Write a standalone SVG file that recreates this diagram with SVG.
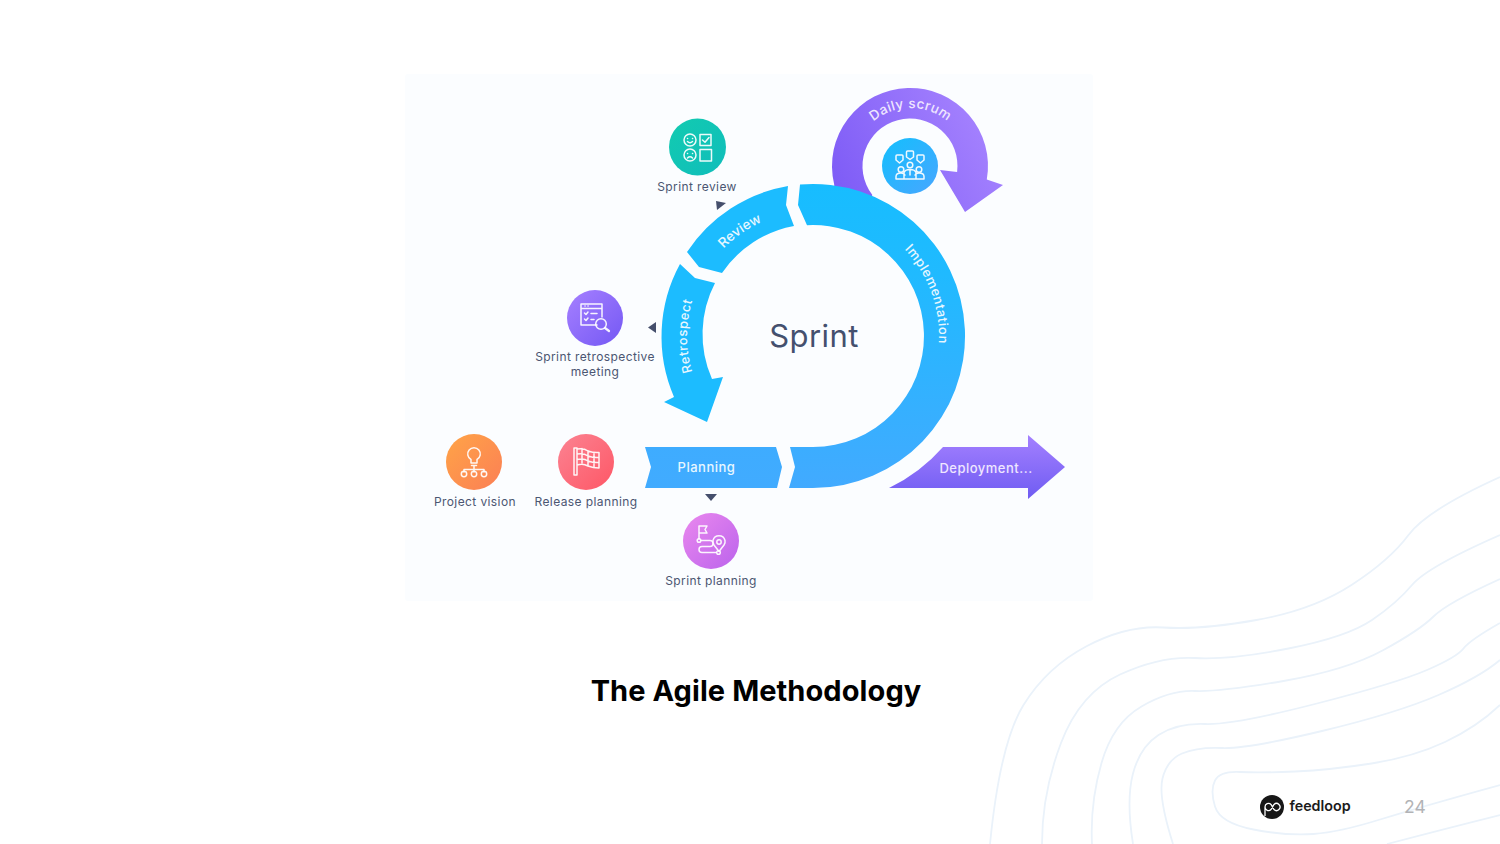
<svg xmlns="http://www.w3.org/2000/svg" width="1500" height="844" viewBox="0 0 1500 844">
<style>
text{font-family:"Inter","Liberation Sans",sans-serif}
.wave{fill:none;stroke:#eaf2fa;stroke-width:1.8}
.lbl{font-size:12px;fill:#4b5672;text-anchor:middle;letter-spacing:.4px;font-weight:400}
.seg{font-size:13px;fill:#e8f7ff;font-weight:500;letter-spacing:.5px;text-anchor:middle}
.ic{fill:none;stroke:#fff;stroke-width:1.5;stroke-opacity:.92;stroke-linecap:round;stroke-linejoin:round}
.tri{fill:#454f6c}
</style>
<defs>
<linearGradient id="gRing" gradientUnits="userSpaceOnUse" x1="813" y1="184" x2="813" y2="488"><stop offset="0" stop-color="#17bdff"/><stop offset=".3" stop-color="#20baff"/><stop offset="1" stop-color="#42aaff"/></linearGradient>
<linearGradient id="gPlan" gradientUnits="userSpaceOnUse" x1="645" y1="447" x2="645" y2="488"><stop offset="0" stop-color="#3eacff"/><stop offset="1" stop-color="#41abff"/></linearGradient>
<linearGradient id="gDaily" gradientUnits="userSpaceOnUse" x1="835" y1="195" x2="1000" y2="110"><stop offset="0" stop-color="#7d5bf6"/><stop offset="1" stop-color="#a986ff"/></linearGradient>
<linearGradient id="gDep" x1="0" y1="0" x2="0" y2="1"><stop offset="0" stop-color="#a480ff"/><stop offset="1" stop-color="#6f5cf2"/></linearGradient>
<linearGradient id="cTeal" x1="0" y1="0" x2="1" y2="1"><stop offset="0" stop-color="#12cbb0"/><stop offset="1" stop-color="#10bdbb"/></linearGradient>
<linearGradient id="cBlue" x1="0" y1="0" x2="1" y2="1"><stop offset="0" stop-color="#13bffd"/><stop offset="1" stop-color="#48a6ff"/></linearGradient>
<linearGradient id="cPurple" x1="0" y1="0" x2="1" y2="1"><stop offset="0" stop-color="#a680ff"/><stop offset="1" stop-color="#7458f4"/></linearGradient>
<linearGradient id="cOrange" x1="0" y1="0" x2="1" y2="1"><stop offset="0" stop-color="#ffa447"/><stop offset="1" stop-color="#fb7f55"/></linearGradient>
<linearGradient id="cRed" x1="0" y1="0" x2="1" y2="1"><stop offset="0" stop-color="#fb8392"/><stop offset="1" stop-color="#fe5766"/></linearGradient>
<linearGradient id="cPink" x1="0" y1="0" x2="1" y2="1"><stop offset="0" stop-color="#ea88ee"/><stop offset="1" stop-color="#bb63ec"/></linearGradient>
<path id="tReview" d="M692.8,301.5A125,125 0 0 1 826.1,211.7"/>
<path id="tImpl" d="M834.9,211.9A126,126 0 0 1 909.5,417"/>
<path id="tRetro" d="M750,445.100A126,126 0 0 1 750,226.900"/>
<path id="tDaily" d="M852.500,166A58,58 0 0 1 968.500,166"/>
</defs>
<rect width="1500" height="844" fill="#fff"/>
<g id="background-waves">
<path class="wave" d="M990,844Q1000,743 1023.5,705T1087,646T1163.5,627.5T1256.5,620T1351.5,585T1408.5,535T1500,477"/>
<path class="wave" d="M1042,844Q1042,793 1061,743T1120,674.5T1195,658T1288.5,648.5T1372,620T1412,585T1500,535"/>
<path class="wave" d="M1092,844Q1090,803 1101.5,763T1141.5,706.5T1195,691T1283.5,681T1383.5,650T1433.5,616.5T1500,579"/>
<path class="wave" d="M1133,844Q1126,800 1133,773.5T1158.5,735T1205,724T1315,704T1427,670T1463.5,648.5T1500,623"/>
<path class="wave" d="M1173,844Q1158,797 1162.5,778.5T1182,753.5T1222,748T1322,731T1438.5,695T1500,660"/>
<path class="wave" d="M1500,705Q1477,727 1445,742T1371.5,763.5T1295,771.5T1240,772T1215,780.5T1215,806.5T1253.5,829.5T1313.5,834T1380,819.5T1500,785"/>
<path class="wave" d="M1387,844Q1440,830 1500,815"/>
</g>
<rect id="panel" x="405" y="74" width="688" height="527" rx="3" fill="#fbfdff"/>
<g id="daily-scrum">
<path d="M834.150,184.200A78,78 0 1 1 986.800,179.500L1003,185L965,212L940,170L957.100,172A47.500,47.500 0 1 0 872.200,194.800L872,200L835,195Z" fill="url(#gDaily)"/>
<text font-size="13.500" font-weight="500" fill="#efe6ff" letter-spacing=".4" text-anchor="middle"><textPath href="#tDaily" startOffset="50%">Daily scrum</textPath></text>
</g>
<g id="deployment">
<path d="M889,488A170,170 0 0 0 943,447L1028,447L1028,435L1065,467L1028,499L1028,488Z" fill="url(#gDep)"/>
<text class="seg" x="986" y="473" style="fill:#efe6ff">Deployment...</text>
</g>
<g id="implementation">
<path d="M800,184.560L798,205L807,225.160A111,111 0 1 1 813,447L790,447L795,467L789,488L813,488A152,152 0 1 0 800,184.560Z" fill="url(#gRing)"/>
<text class="seg"><textPath href="#tImpl" startOffset="50%">Implementation</textPath></text>
</g>
<g id="review">
<path d="M788,186L786,205L794,226A111,111 0 0 0 722,273L699,267L687,252A152,152 0 0 1 788,186Z" fill="#1cbcff"/>
<text class="seg" style="font-size:13.500px;letter-spacing:.2px"><textPath href="#tReview" startOffset="49%">Review</textPath></text>
</g>
<g id="retrospect">
<path d="M680,264L695,278L715,283A111,111 0 0 0 712,379L723,377L707,422L664,402L674,397A152,152 0 0 1 680,264Z" fill="#1cbcff"/>
<text class="seg"><textPath href="#tRetro" startOffset="50%">Retrospect</textPath></text>
</g>
<g id="planning">
<path d="M645,447L776,447L782,467L777,488L645,488L651,467Z" fill="url(#gPlan)"/>
<text class="seg" x="706.500" y="472">Planning</text>
</g>
<text id="sprint-title" x="814" y="347" font-size="31" fill="#44506e" text-anchor="middle" letter-spacing=".4">Sprint</text>
<g id="connectors">
<path class="tri" d="M716,201L726,203L717,210Z"/>
<path class="tri" d="M656,322L648,327.500L656,333Z"/>
<path class="tri" d="M705,494L717,494L711,501Z"/>
</g>
<g id="node-sprint-review">
<circle cx="697.500" cy="147" r="28.500" fill="url(#cTeal)"/>
<g class="ic" transform="translate(697 147)">
<circle cx="-7" cy="-7" r="6"/><path d="M-9.500,-8.500h.1M-4.500,-8.500h.1M-9.500,-5.500Q-7,-3 -4.500,-5.500"/>
<rect x="3" y="-12.500" width="11" height="11"/><path d="M5.500,-7L8,-4.800L12,-9.500"/>
<circle cx="-7" cy="8" r="6"/><path d="M-9.500,6.500h.1M-4.500,6.500h.1M-9.500,11Q-7,8.500 -4.500,11"/>
<rect x="3" y="2.500" width="11.500" height="11.500"/>
</g>
<text class="lbl" x="697" y="191">Sprint review</text>
</g>
<g id="node-daily-scrum">
<circle cx="910" cy="166" r="28" fill="url(#cBlue)"/>
<g class="ic" transform="translate(910 166)">
<path d="M-14,-10Q-14,-11 -13,-11H-8Q-7,-11 -7,-10V-6L-10.500,-3L-14,-6ZM-3.500,-14Q-3.500,-15 -2.500,-15H2.500Q3.500,-15 3.500,-14V-9L0,-6.500L-3.500,-9ZM7,-10Q7,-11 8,-11H13Q14,-11 14,-10V-6L10.500,-3L7,-6Z"/>
<circle cx="0" cy="-1" r="2.800"/><circle cx="-9" cy="3.500" r="2.800"/><circle cx="9" cy="3.500" r="2.800"/>
<path d="M-14,13V10.500Q-14,7 -9,7Q-6,7 -5,9M14,13V10.500Q14,7 9,7Q6,7 5,9M-6,13V6.500Q-5,3.500 0,3.500Q5,3.500 6,6.500V13M0,4V9M-14,13H14"/>
</g>
</g>
<g id="node-sprint-retrospective">
<circle cx="595" cy="318" r="28" fill="url(#cPurple)"/>
<g class="ic" transform="translate(595 318)">
<path d="M2,7H-14V-14H7V-1M-14,-9.500H7M-10,-12h.1M-7,-12h.1"/>
<path d="M-10.500,-5L-9,-3.500L-7,-6M-10.500,1L-9,2.500L-7,0M-4,-4.500H2M-4,1.500H-1"/>
<circle cx="6" cy="6" r="5.300"/><path d="M10,10L14,13" stroke-width="2.200"/>
</g>
<text class="lbl" x="595" y="361">Sprint retrospective</text>
<text class="lbl" x="595" y="376">meeting</text>
</g>
<g id="node-project-vision">
<circle cx="474" cy="462" r="28" fill="url(#cOrange)"/>
<g class="ic" transform="translate(474 462)">
<path d="M-3,-2.500A6.300,6.300 0 1 1 3,-2.500V1H-3ZM-2.500,3.500H2.500M0,4V7.500M-10,10V7.500H10V10M0,7.500V10"/>
<circle cx="-10" cy="12" r="2.700"/><circle cx="0" cy="12" r="2.700"/><circle cx="10" cy="12" r="2.700"/>
</g>
<text class="lbl" x="475" y="506">Project vision</text>
</g>
<g id="node-release-planning">
<circle cx="586" cy="462" r="28" fill="url(#cRed)"/>
<g class="ic" transform="translate(586 462)" stroke-width="1.200">
<path d="M-12,-14H-9V13H-12ZM-9,-13Q-2,-14 2,-11Q8,-9 13,-9.500V6Q7,6 2,4Q-3,1 -9,3ZM-9,-8Q-2,-9 2,-6Q8,-4 13,-4.500M-9,-2.500Q-2,-4 2,-1Q8,1 13,.5M-4,-13.500V1M2,-11V4M8,-9.500V5.500"/>
</g>
<text class="lbl" x="586" y="506">Release planning</text>
</g>
<g id="node-sprint-planning">
<circle cx="711" cy="541" r="28" fill="url(#cPink)"/>
<g class="ic" transform="translate(711 541)">
<path d="M-12,-2V-15H-4L-6,-11.500L-4,-8H-12"/>
<circle cx="-12" cy="-.5" r="1.800"/>
<path d="M-10,-.5H-1Q2,-.5 2,2.500Q2,5.500 -1,5.500H-9Q-12,5.500 -12,8.500Q-12,11.500 -9,11.500H5"/>
<path d="M8,10.500L3,4Q1.500,1.500 2,-.5A6.200,6.200 0 0 1 14,-.5Q14.500,1.500 13,4Z"/><circle cx="8" cy="1" r="2.200"/>
<circle cx="7.500" cy="11.500" r="1.800"/>
</g>
<text class="lbl" x="711" y="585">Sprint planning</text>
</g>
<text id="caption" x="756" y="701" font-size="29" font-weight="700" fill="#000" text-anchor="middle" letter-spacing=".08">The Agile Methodology</text>
<g id="logo">
<circle cx="1272" cy="807" r="12" fill="#171717"/>
<path d="M1265,816V807A3.500,3.500 0 0 1 1271,804.500L1274,809.500A3.500,3.500 0 1 0 1274,804.500L1271,809.500A3.500,3.500 0 0 1 1265,807" fill="none" stroke="#fff" stroke-width="1.300"/>
<text x="1289.500" y="811" font-size="14.300" font-weight="600" fill="#1b1b1b">feedloop</text>
</g>
<text id="page" x="1404" y="813" font-size="17.500" fill="#b2b3b6">24</text>
</svg>
